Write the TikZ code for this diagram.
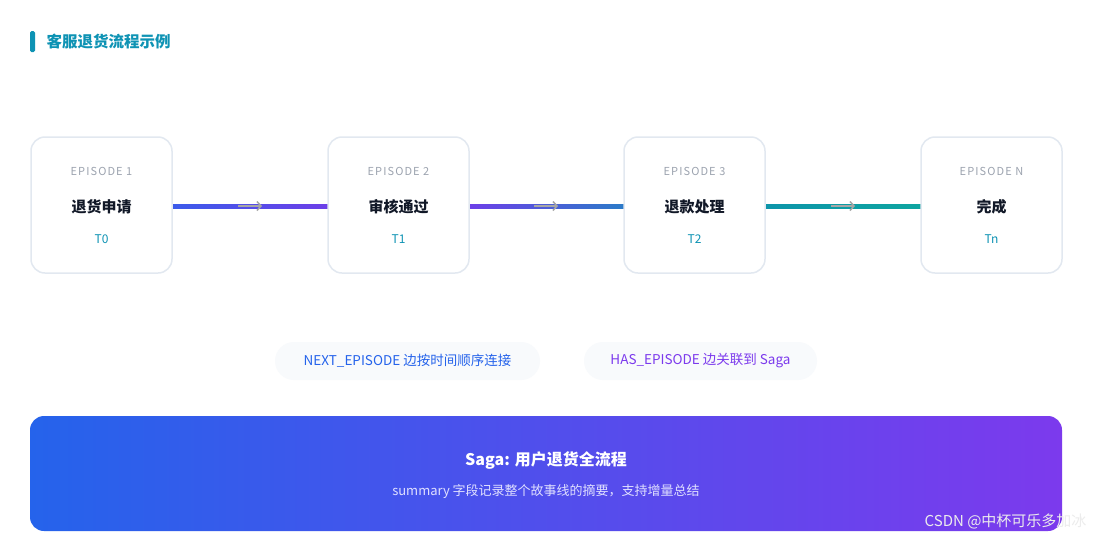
\documentclass[tikz,border=0pt]{standalone}
\usepackage{fontspec}
\setmainfont{Noto Sans CJK SC}
\usetikzlibrary{arrows.meta}
\definecolor{teal1}{HTML}{0E93B4}
\definecolor{bordc}{HTML}{E2E8F0}
\definecolor{epc}{HTML}{9CA3AF}
\definecolor{ink}{HTML}{111827}
\definecolor{c1}{HTML}{3B5BEA}
\definecolor{c2}{HTML}{6D3FE8}
\definecolor{c3}{HTML}{2B7BC8}
\definecolor{c4}{HTML}{0EA5A0}
\definecolor{pillbg}{HTML}{F8FAFC}
\definecolor{bluet}{HTML}{2563EB}
\definecolor{purt}{HTML}{7C3AED}
\tikzset{
  epbox/.style={draw=bordc,line width=1.5pt,rounded corners=14pt,fill=white,minimum width=141pt,minimum height=136pt,inner sep=0pt},
  eplab/.style={font=\fontsize{11}{12}\selectfont,text=epc},
  eptitle/.style={font=\fontsize{15}{16}\selectfont\bfseries,text=ink},
  eptime/.style={font=\fontsize{12}{13}\selectfont,text=teal1},
  pill/.style={fill=pillbg,rounded corners=19pt,minimum height=38pt,inner sep=0pt,font=\fontsize{13.5}{15}\selectfont},
  chev/.style={draw=gray!70,line width=1.5pt,-{Straight Barb[length=4pt,width=9pt]}}
}
\begin{document}
\begin{tikzpicture}[x=1pt,y=-1pt]
\useasboundingbox[fill=white] (0,0) rectangle (1093,539);
\fill[teal1,rounded corners=1.5pt] (30,31) rectangle (35,52);
\node[anchor=west,font=\fontsize{15.5}{17}\selectfont\bfseries,text=teal1] (title) at (43,42) {客服退货流程示例};
% connector bars
\shade[left color=c1,right color=c2] (172,204) rectangle (328,208);
\shade[left color=c2,right color=c3] (469,204) rectangle (624,208);
\shade[left color=c4!90!blue,right color=c4] (765,204) rectangle (921,208);
\foreach \n/\x/\e/\t/\tm in {e1/101.5/EPISODE 1/退货申请/T0,e2/398.5/EPISODE 2/审核通过/T1,e3/694.5/EPISODE 3/退款处理/T2,e4/991.5/EPISODE N/完成/Tn}{
  \node[epbox] (\n) at (\x,205) {};
  \node[eplab] at (\x,171) {\addfontfeature{LetterSpace=10}\e};
  \node[eptitle] at (\x,207) {\t};
  \node[eptime] at (\x,239) {\tm};
}
\coordinate (a1s) at (238,206); \coordinate (a1e) at (262,206);
\coordinate (a2s) at (534,206); \coordinate (a2e) at (558,206);
\coordinate (a3s) at (831,206); \coordinate (a3e) at (855,206);
\draw[chev] (a1s) -- (a1e);
\draw[chev] (a2s) -- (a2e);
\draw[chev] (a3s) -- (a3e);
\node[pill,minimum width=265pt,text=bluet] (p1) at (407.5,361) {NEXT\_EPISODE 边按时间顺序连接};
\node[pill,minimum width=233pt,text=purt] (p2) at (700.5,361) {HAS\_EPISODE 边关联到 Saga};
\shade[rounded corners=14pt,shading angle=70,left color=bluet,right color=purt] (30,416) rectangle (1062,531);
\node[font=\fontsize{16}{18}\selectfont\bfseries,text=white] (saga) at (546,460) {Saga: 用户退货全流程};
\node[font=\fontsize{13}{15}\selectfont,text=white!88!blue] (sum) at (546,492) {summary 字段记录整个故事线的摘要，支持增量总结};
\node[anchor=east,font=\fontsize{15}{17}\selectfont,text=white!85!gray] (wm) at (1090,521) {CSDN @中杯可乐多加冰};
\end{tikzpicture}
\end{document}
